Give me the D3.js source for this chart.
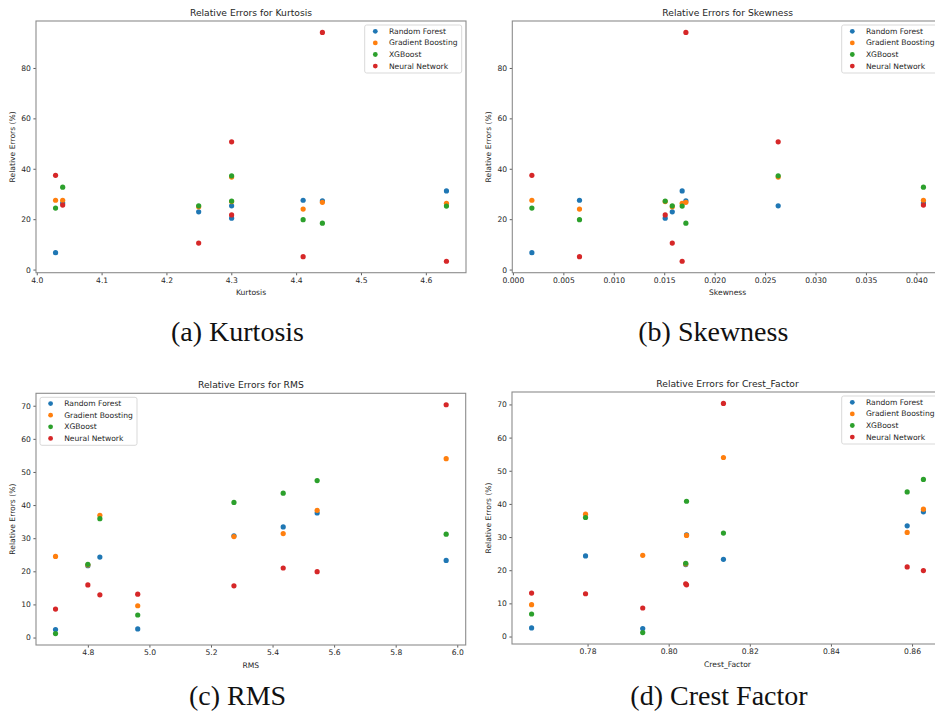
<!DOCTYPE html>
<html>
<head>
<meta charset="utf-8">
<script src="https://cdn.jsdelivr.net/npm/d3@7"></script>
<style>
  html, body { margin: 0; padding: 0; background: #fff; overflow: hidden; }
  svg { display: block; }
</style>
</head>
<body>
<svg id="chart" width="935" height="719"></svg>
<script>
// ---------- DATA ----------
const seriesNames = ["Random Forest", "Gradient Boosting", "XGBoost", "Neural Network"];
const seriesColors = ["#1f77b4", "#ff7f0e", "#2ca02c", "#d62728"];

// Dataset 1 (Kurtosis / Skewness panels)
const kurtosis = [4.029, 4.040, 4.2497, 4.3005, 4.3005, 4.4108, 4.4405, 4.6318];
const skewness = [0.00188, 0.0407, 0.0158, 0.0263, 0.0151, 0.0066, 0.01715, 0.01678];
const rf1  = [6.7, 26.4, 22.9, 25.3, 20.4, 27.5, 27.3, 31.2];
const gb1  = [27.5, 27.5, 24.9, 36.7, 27.0, 24.0, 26.7, 26.3];
const xgb1 = [24.4, 32.7, 25.3, 37.2, 27.2, 19.8, 18.4, 25.2];
const nn1  = [37.4, 25.6, 10.5, 50.7, 21.7, 5.1, 94.1, 3.3];

// Dataset 2 (RMS / Crest Factor panels)
const rms         = [4.695, 4.800, 4.839, 4.962, 5.2746, 5.4346, 5.5449, 5.964];
const crestFactor = [0.7936, 0.8042, 0.7795, 0.7662, 0.8044, 0.8588, 0.8628, 0.8135];
const rf2  = [2.4, 21.7, 24.3, 2.6, 30.7, 33.4, 37.6, 23.3];
const gb2  = [24.5, 21.9, 36.9, 9.6, 30.5, 31.4, 38.4, 54.0];
const xgb2 = [1.2, 22.1, 35.9, 6.8, 40.8, 43.6, 47.4, 31.2];
const nn2  = [8.6, 15.9, 12.9, 13.1, 15.6, 21.0, 19.9, 70.3];

// Tick values
const kurtTicks = [4.0, 4.1, 4.2, 4.3, 4.4, 4.5, 4.6];
const skewTicks = [0.000, 0.005, 0.010, 0.015, 0.020, 0.025, 0.030, 0.035, 0.040];
const rmsTicks  = [4.8, 5.0, 5.2, 5.4, 5.6, 5.8, 6.0];
const cfTicks   = [0.78, 0.80, 0.82, 0.84, 0.86];
const yTicks1   = [0, 20, 40, 60, 80];
const yTicks2   = [0, 10, 20, 30, 40, 50, 60, 70];

const captions = ["(a) Kurtosis", "(b) Skewness", "(c) RMS", "(d) Crest Factor"];

// ---------- LAYOUT ----------
const panels = [
  { title: "Relative Errors for Kurtosis", xlabel: "Kurtosis", x: kurtosis, ys: [rf1, gb1, xgb1, nn1],
    xTicks: kurtTicks, xFmt: ".1f", yTicks: yTicks1,
    box: { x0: 36, x1: 466, y0: 21, y1: 272.7 }, legend: "right",
    caption: captions[0], capX: 237.5, capY: 341 },
  { title: "Relative Errors for Skewness", xlabel: "Skewness", x: skewness, ys: [rf1, gb1, xgb1, nn1],
    xTicks: skewTicks, xFmt: ".3f", yTicks: yTicks1,
    box: { x0: 512.3, x1: 943, y0: 21, y1: 272.7 }, legend: "right",
    caption: captions[1], capX: 713.3, capY: 341 },
  { title: "Relative Errors for RMS", xlabel: "RMS", x: rms, ys: [rf2, gb2, xgb2, nn2],
    xTicks: rmsTicks, xFmt: ".1f", yTicks: yTicks2,
    box: { x0: 36, x1: 465.7, y0: 393.3, y1: 645 }, legend: "left",
    caption: captions[2], capX: 237.5, capY: 704.5 },
  { title: "Relative Errors for Crest_Factor", xlabel: "Crest_Factor", x: crestFactor, ys: [rf2, gb2, xgb2, nn2],
    xTicks: cfTicks, xFmt: ".2f", yTicks: yTicks2,
    box: { x0: 512, x1: 943, y0: 392, y1: 644 }, legend: "right",
    caption: captions[3], capX: 719, capY: 704.5 }
];

const svg = d3.select("#chart");
const FONT = "'DejaVu Sans', sans-serif";
const TICK_FS = 7.6, TITLE_FS = 9.2;
const textColor = "#262626";

function padded(vals) {
  const lo = d3.min(vals), hi = d3.max(vals), r = hi - lo;
  return [lo - 0.05 * r, hi + 0.05 * r];
}

panels.forEach(p => {
  const b = p.box;
  const allY = [].concat(...p.ys);
  const x = d3.scaleLinear().domain(padded(p.x)).range([b.x0, b.x1]);
  const y = d3.scaleLinear().domain(padded(allY)).range([b.y1, b.y0]);

  const g = svg.append("g");

  // Axes
  const xAxis = d3.axisBottom(x).tickValues(p.xTicks).tickFormat(d3.format(p.xFmt))
    .tickSizeInner(2.6).tickSizeOuter(0).tickPadding(2.5);
  const yAxis = d3.axisLeft(y).tickValues(p.yTicks).tickFormat(d3.format("d"))
    .tickSizeInner(2.6).tickSizeOuter(0).tickPadding(2.5);

  const gx = g.append("g").attr("transform", `translate(0,${b.y1})`).call(xAxis);
  const gy = g.append("g").attr("transform", `translate(${b.x0},0)`).call(yAxis);
  [gx, gy].forEach(ax => {
    ax.select(".domain").remove();
    ax.selectAll("line").attr("stroke", "#333").attr("stroke-width", 0.8);
    ax.selectAll("text").attr("font-family", FONT).attr("font-size", TICK_FS).attr("fill", textColor);
  });

  // Points
  p.ys.forEach((ys, si) => {
    g.append("g").selectAll("circle").data(ys).join("circle")
      .attr("cx", (d, i) => x(p.x[i]))
      .attr("cy", d => y(d))
      .attr("r", 2.6)
      .attr("fill", seriesColors[si]);
  });

  // Frame
  g.append("rect")
    .attr("x", b.x0).attr("y", b.y0)
    .attr("width", b.x1 - b.x0).attr("height", b.y1 - b.y0)
    .attr("fill", "none").attr("stroke", "#8c8c8c").attr("stroke-width", 1.1);

  // Title
  g.append("text").attr("x", (b.x0 + b.x1) / 2).attr("y", b.y0 - 5.5)
    .attr("text-anchor", "middle").attr("font-family", FONT).attr("font-size", TITLE_FS)
    .attr("fill", textColor).text(p.title);

  // X label
  g.append("text").attr("x", (b.x0 + b.x1) / 2).attr("y", b.y1 + 22.5)
    .attr("text-anchor", "middle").attr("font-family", FONT).attr("font-size", TICK_FS)
    .attr("fill", textColor).text(p.xlabel);

  // Y label
  const yl = b.x0 - 23.7, ym = (b.y0 + b.y1) / 2;
  g.append("text").attr("transform", `translate(${yl},${ym}) rotate(-90)`)
    .attr("text-anchor", "middle").attr("dominant-baseline", "central")
    .attr("font-family", FONT).attr("font-size", TICK_FS).attr("fill", textColor)
    .text("Relative Errors (%)");

  // Legend
  const lw = 97, lh = 48;
  const lx = p.legend === "right" ? b.x1 - 4.3 - lw : b.x0 + 4;
  const ly = b.y0 + 4;
  const lg = g.append("g").attr("transform", `translate(${lx},${ly})`);
  lg.append("rect").attr("width", lw).attr("height", lh).attr("rx", 2)
    .attr("fill", "#fff").attr("fill-opacity", 0.8)
    .attr("stroke", "#d5d5d5").attr("stroke-width", 0.9);
  seriesNames.forEach((name, i) => {
    const cy = 6.3 + i * 11.6;
    lg.append("circle").attr("cx", 10.6).attr("cy", cy).attr("r", 2.4).attr("fill", seriesColors[i]);
    lg.append("text").attr("x", 24.2).attr("y", cy).attr("dominant-baseline", "central")
      .attr("font-family", FONT).attr("font-size", TICK_FS).attr("fill", textColor).text(name);
  });

  // Caption
  svg.append("text").attr("x", p.capX).attr("y", p.capY)
    .attr("text-anchor", "middle").attr("font-family", "'Liberation Serif', serif")
    .attr("font-size", 28).attr("fill", "#111").text(p.caption);
});
</script>
</body>
</html>
